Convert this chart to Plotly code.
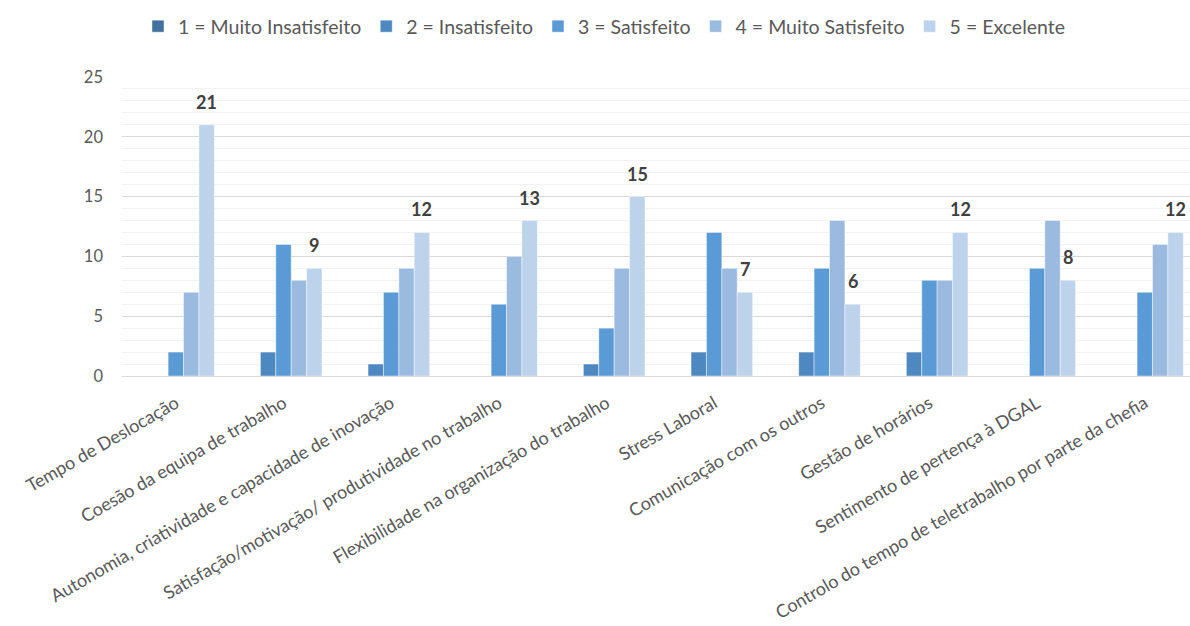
import plotly.graph_objects as go

categories = [
    "Tempo de Deslocação",
    "Coesão da equipa de trabalho",
    "Autonomia, criatividade e capacidade de inovação",
    "Satisfação/motivação/ produtividade no trabalho",
    "Flexibilidade na organização do trabalho",
    "Stress Laboral",
    "Comunicação com os outros",
    "Gestão de horários",
    "Sentimento de pertença à DGAL",
    "Controlo do tempo de teletrabalho por parte da chefia",
]

series_names = [
    "1 = Muito Insatisfeito",
    "2 = Insatisfeito",
    "3 = Satisfeito",
    "4 = Muito Satisfeito",
    "5 = Excelente",
]

muito_insatisfeito = [0, 0, 0, 0, 0, 0, 0, 0, 0, 0]
insatisfeito = [0, 2, 1, 0, 1, 2, 2, 2, 0, 0]
satisfeito = [2, 11, 7, 6, 4, 12, 9, 8, 9, 7]
muito_satisfeito = [7, 8, 9, 10, 9, 9, 13, 8, 13, 11]
excelente = [21, 9, 12, 13, 15, 7, 6, 12, 8, 12]

y_ticks = [0, 5, 10, 15, 20, 25]

colors = ["#41719C", "#4E88C0", "#5B9BD5", "#9BBAE0", "#BDD2EB"]
all_series = [muito_insatisfeito, insatisfeito, satisfeito, muito_satisfeito, excelente]

W, H = 1190, 626
m_l, m_r, m_t, m_b = 122, 0, 77, 250
x_range = [-0.5, 9.42]
bargap = 0.285

fig = go.Figure()
for name, vals, col in zip(series_names, all_series, colors):
    fig.add_trace(go.Bar(
        name=name, x=categories, y=vals,
        marker=dict(color=col, line=dict(color="rgba(255,255,255,0.55)", width=0.8)),
        hoverinfo="skip",
    ))

# data labels on the "Excelente" series
plot_w = W - m_l - m_r
cat_px = plot_w / (x_range[1] - x_range[0])
bar_px = (1 - bargap) / 5 * cat_px
for c, v in zip(categories, excelente):
    fig.add_annotation(
        x=c, y=v, xref="x", yref="y", text=f"<b>{v}</b>", showarrow=False,
        xshift=2 * bar_px, yshift=23, yanchor="middle",
        font=dict(family="Lato", size=18, color="#404040"),
    )

fig.update_layout(
    width=W, height=H,
    margin=dict(l=m_l, r=m_r, t=m_t, b=m_b, autoexpand=False),
    paper_bgcolor="white", plot_bgcolor="white",
    barmode="group", bargap=bargap, bargroupgap=0,
    font=dict(family="Lato", color="#595959"),
    showlegend=True,
    legend=dict(
        orientation="h", x=138 / W, xanchor="left", xref="container",
        y=(H - 7) / H, yref="container", yanchor="top",
        font=dict(family="Lato", size=19.5, color="#595959"),
        itemclick=False, traceorder="normal",
    ),
)

fig.update_yaxes(
    range=[0, 25], tickvals=y_ticks, showgrid=True, gridcolor="#D9D9D9", gridwidth=1,
    minor=dict(dtick=1, showgrid=True, gridcolor="#F2F2F2", gridwidth=1),
    zeroline=False, showline=False, ticks="",
    tickfont=dict(family="Lato", size=16.5, color="#595959"),
    ticklabelstandoff=18,
)
fig.update_xaxes(
    type="category", range=x_range, showgrid=False, showline=True, linecolor="#D9D9D9",
    linewidth=1, ticks="", tickangle=-30,
    tickfont=dict(family="Lato", size=18, color="#595959"),
    ticklabelstandoff=9,
)

fig.write_html("out.html")
